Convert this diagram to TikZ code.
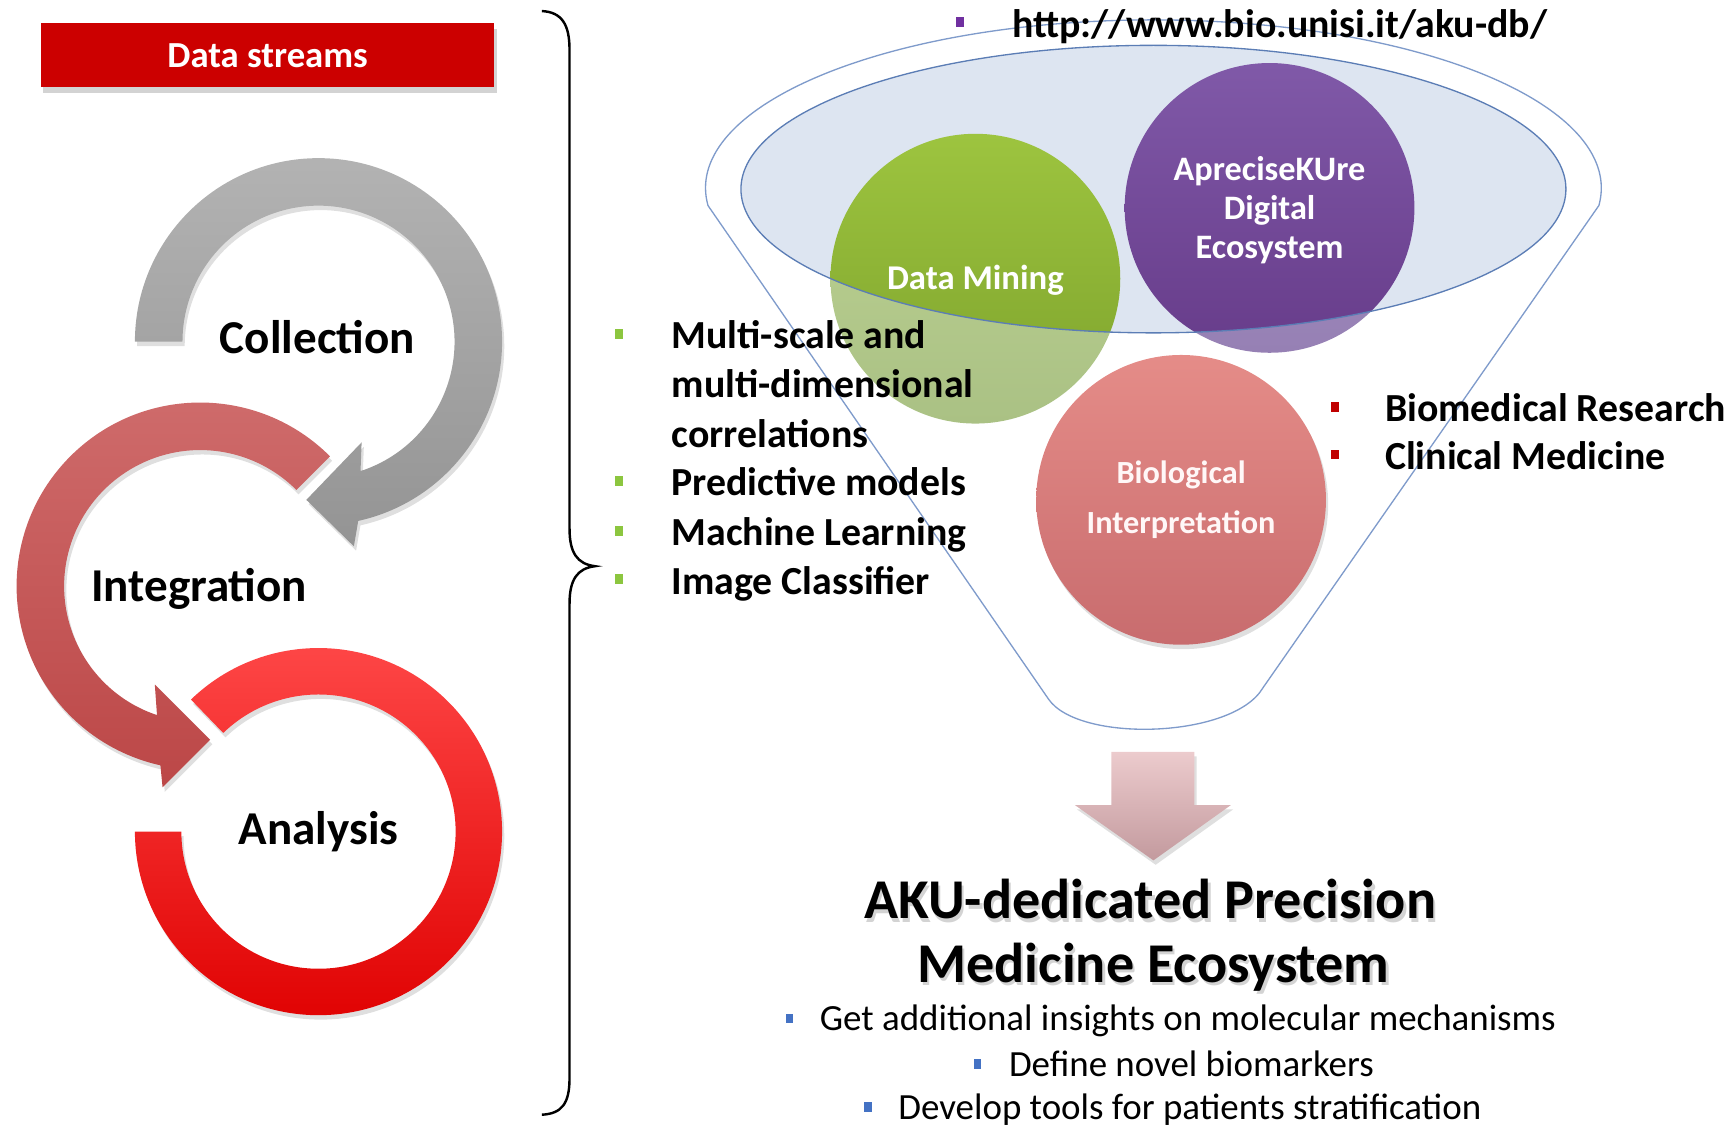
\documentclass[tikz,border=0pt]{standalone}
\usepackage{fontspec}
\setmainfont{Carlito}
\usetikzlibrary{positioning,calc,shadows}

\definecolor{streamred}{HTML}{CC0000}
\definecolor{greenbul}{HTML}{8CC63F}
\definecolor{redbul}{HTML}{C00000}
\definecolor{bluebul}{HTML}{4472C4}
\definecolor{urlbul}{HTML}{7030A0}
\definecolor{funnelline}{HTML}{7F9BCB}
\definecolor{lensfill}{HTML}{DDE5F1}
\definecolor{lensline}{HTML}{5B7DB5}

\tikzset{
  cyclelabel/.style={font=\fontsize{21.3}{25}\selectfont\bfseries, anchor=base, inner sep=0pt},
  listtext/.style={font=\fontsize{18}{22}\selectfont\bfseries, anchor=base west, inner sep=0pt},
  pointtext/.style={font=\fontsize{16.7}{20}\selectfont, anchor=base west, inner sep=0pt},
  titletext/.style={font=\fontsize{25.4}{28}\selectfont\bfseries, anchor=base, inner sep=0pt},
  bulletsq/.style={minimum width=3.5pt, minimum height=4.5pt, inner sep=0pt},
  bubble/.style={circle, minimum size=131pt, inner sep=0pt},
  bubbletext/.style={text=white, align=center, inner sep=0pt},
  softshadow/.style={drop shadow={opacity=.25, shadow xshift=1pt, shadow yshift=-2pt}},
}

\begin{document}
\begin{tikzpicture}[x=0.5pt, y=0.5pt]
    \useasboundingbox (0,0) rectangle (1568,-1021);

    % Left column: data streams cycle
    \node[fill=streamred, minimum width=205pt, minimum height=29pt, text=white,
          font=\fontsize{16.6}{20}\selectfont\bfseries,
          drop shadow={opacity=.35, shadow xshift=1pt, shadow yshift=-2.5pt}] (streams) at (242,-50) {Data streams};

    \coordinate (collc) at (288,-309);
    \coordinate (integc) at (181,-530);
    \coordinate (analc) at (288,-752);

    \shade[top color=black!30, bottom color=black!42, softshadow]
        ($(collc)+(180:166)$) arc[start angle=180, end angle=-77.5, radius=166]
        -- (320,-494) -- (277,-452) -- (327,-400)
        -- ($(collc)+(-72:123)$) arc[start angle=-72, end angle=180, radius=123] -- cycle;
    \shade[top color={rgb,255:red,207;green,108;blue,108}, bottom color={rgb,255:red,188;green,71;blue,71}, softshadow]
        ($(integc)+(45:166)$) arc[start angle=45, end angle=257.5, radius=166]
        -- (147,-712) -- (190,-669) -- (140,-619)
        -- ($(integc)+(251.5:123)$) arc[start angle=251.5, end angle=45, radius=123] -- cycle;
    \shade[top color={rgb,255:red,255;green,73;blue,73}, bottom color={rgb,255:red,223;green,0;blue,0}, softshadow]
        ($(analc)+(134:166)$) arc[start angle=134, end angle=-180, radius=166]
        -- ($(analc)+(180:124)$) arc[start angle=-180, end angle=134, radius=124] -- cycle;

    \node[cyclelabel] (collection) at (287,-320) {Collection};
    \node[cyclelabel] (integration) at (180,-544) {Integration};
    \node[cyclelabel] (analysis) at (288,-764) {Analysis};

    % Brace
    \draw[line width=1.1pt] (490,-10) .. controls (508,-11) and (515,-22) .. (515,-45) -- (515,-478)
        .. controls (515,-500) and (522,-510) .. (538,-512)
        .. controls (522,-514) and (515,-524) .. (515,-546) -- (515,-975)
        .. controls (515,-998) and (508,-1007) .. (490,-1008);

    % Bubbles (faded outside the lens)
    \node[bubble, top color={rgb,255:red,190;green,211;blue,148}, bottom color={rgb,255:red,170;green,193;blue,132}] (datamining) at (882,-252) {};
    \node[bubble, top color={rgb,255:red,168;green,149;blue,198}, bottom color={rgb,255:red,150;green,128;blue,180}] (aprecise) at (1148,-188) {};
    \node[bubble, top color={rgb,255:red,229;green,140;blue,136}, bottom color={rgb,255:red,200;green,108;blue,110}, softshadow] (biointerp) at (1068,-452) {};

    % Lens
    \coordinate (lens) at (1043,-171);
    \begin{scope}
        \clip (lens) ellipse [x radius=373, y radius=130];
        \fill[lensfill] (lens) ellipse [x radius=373, y radius=130];
        \shade[top color={rgb,255:red,157;green,196;blue,63}, bottom color={rgb,255:red,125;green,162;blue,44}] (datamining.center) circle [radius=131];
        \shade[top color={rgb,255:red,128;green,89;blue,168}, bottom color={rgb,255:red,103;green,60;blue,138}] (aprecise.center) circle [radius=131];
    \end{scope}
    \draw[lensline, line width=.6pt] (lens) ellipse [x radius=373, y radius=130];

    % Funnel outline
    \coordinate (funnel) at (1043,-170);
    \draw[funnelline, line width=.6pt] ($(funnel)+(186:405 and 152)$) arc[start angle=186, end angle=-6, x radius=405, y radius=152]
        -- (1142,-622) .. controls (1115,-668) and (975,-672) .. (948,-632) -- cycle;

    % Bubble labels
    \node[bubbletext, font=\fontsize{15.7}{18}\selectfont\bfseries, anchor=base] (dmlabel) at (882,-262) {Data Mining};
    \node[bubbletext, font=\fontsize{15.5}{17.5}\selectfont\bfseries] (aplabel) at (1148,-190) {ApreciseKUre\\Digital\\Ecosystem};
    \node[bubbletext, text=white!88!pink, font=\fontsize{14.6}{22.5}\selectfont\bfseries] (bilabel) at (1068,-452) {Biological\\Interpretation};

    % URL
    \node[bulletsq, fill=urlbul] (ub) at (868,-20) {};
    \node[listtext] (url) at (915,-33.5) {http://www.bio.unisi.it/aku-db/};

    % Methods list
    \node[bulletsq, fill=greenbul] (gb1) at (560,-302) {};
    \node[listtext] (multiscale) at (607,-315.5) {Multi-scale and};
    \node[listtext] (multidim) at (607,-359.5) {multi-dimensional};
    \node[listtext] (correl) at (607,-404.5) {correlations};
    \node[bulletsq, fill=greenbul] (gb2) at (560,-435) {};
    \node[listtext] (predictive) at (607,-448.5) {Predictive models};
    \node[bulletsq, fill=greenbul] (gb3) at (560,-480) {};
    \node[listtext] (machine) at (607,-493.5) {Machine Learning};
    \node[bulletsq, fill=greenbul] (gb4) at (560,-524) {};
    \node[listtext] (classifier) at (607,-537.5) {Image Classifier};

    % Fields list
    \node[bulletsq, fill=redbul] (rb1) at (1207,-368) {};
    \node[listtext] (biomed) at (1252,-381.5) {Biomedical Research};
    \node[bulletsq, fill=redbul] (rb2) at (1207,-411) {};
    \node[listtext] (clinical) at (1252,-424.5) {Clinical Medicine};

    % Output arrow
    \shade[top color={rgb,255:red,236;green,203;blue,205}, bottom color={rgb,255:red,195;green,154;blue,158}, softshadow]
        (1005,-680) -- (1080,-680) -- (1080,-728) -- (1113,-728) -- (1043,-778) -- (972,-728) -- (1005,-728) -- cycle;

    % Title
    \node[titletext, text=black!50, opacity=.35] (title1glow) at (1042,-834) {AKU-dedicated Precision};
    \node[titletext, text=black!50, opacity=.35] (title2glow) at (1045,-891) {Medicine Ecosystem};
    \node[titletext] (title1) at (1040,-831) {AKU-dedicated Precision};
    \node[titletext] (title2) at (1043,-888) {Medicine Ecosystem};

    % Goals
    \node[bulletsq, fill=bluebul] (bb1) at (714,-921) {};
    \node[pointtext] (insights) at (741,-932) {Get additional insights on molecular mechanisms};
    \node[bulletsq, fill=bluebul] (bb2) at (884,-962) {};
    \node[pointtext] (biomarkers) at (912,-973) {Define novel biomarkers};
    \node[bulletsq, fill=bluebul] (bb3) at (785,-1001) {};
    \node[pointtext] (stratification) at (812,-1012) {Develop tools for patients stratification};
\end{tikzpicture}
\end{document}
